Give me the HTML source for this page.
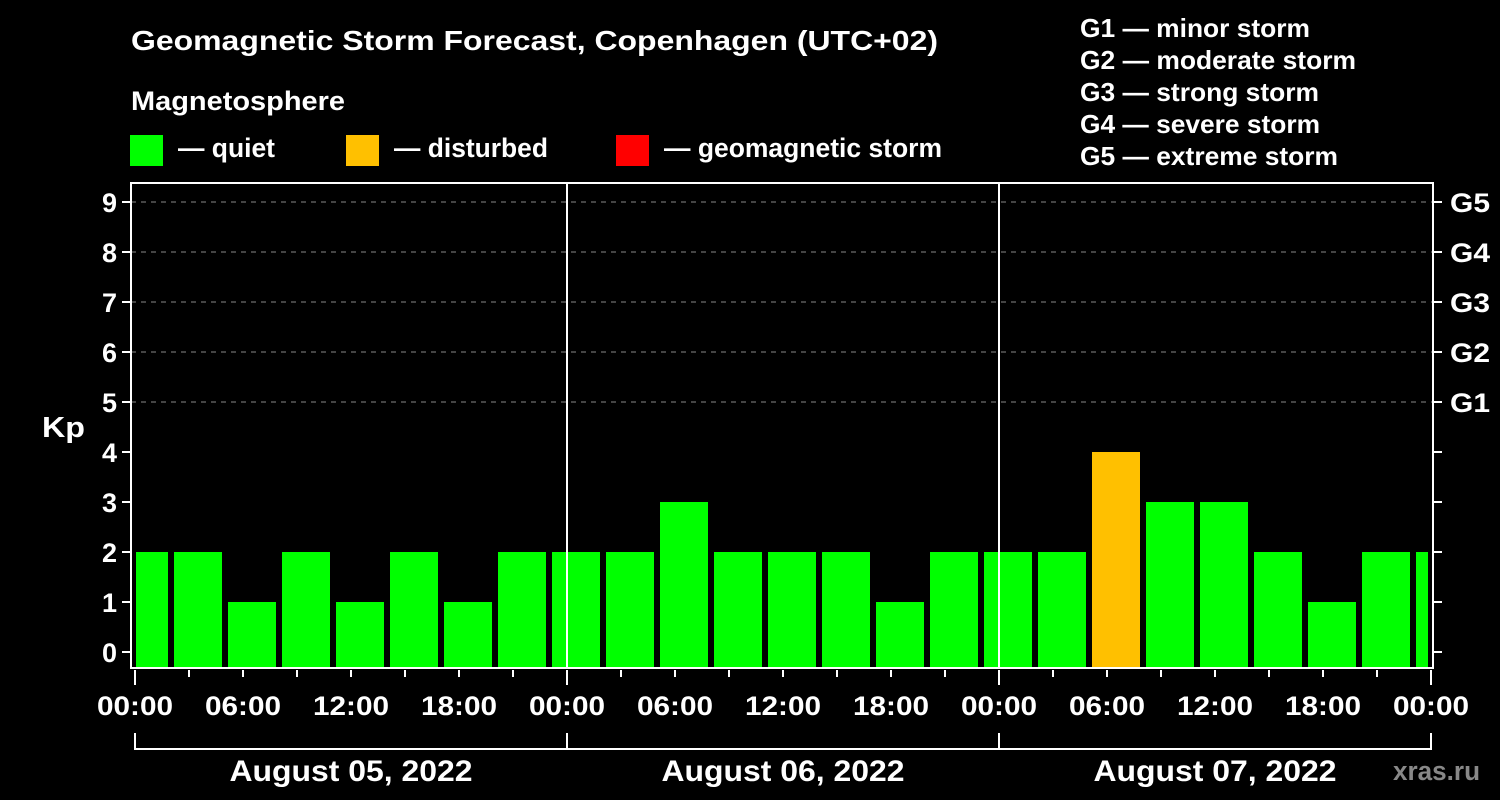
<!DOCTYPE html>
<html><head><meta charset="utf-8"><style>html,body{margin:0;padding:0;background:#000;}svg{display:block}</style></head>
<body>
<svg width="1500" height="800" xmlns="http://www.w3.org/2000/svg" font-family="Liberation Sans, Arial, sans-serif" font-weight="bold" fill="#fff">
<rect width="1500" height="800" fill="#000"/>
<text x="131" y="50" font-size="28" textLength="807" lengthAdjust="spacingAndGlyphs">Geomagnetic Storm Forecast, Copenhagen (UTC+02)</text>
<text x="131" y="110" font-size="27" textLength="214" lengthAdjust="spacingAndGlyphs">Magnetosphere</text>
<rect x="130" y="135" width="33" height="31" fill="#00ff00"/>
<text x="178" y="157" font-size="27" textLength="97" lengthAdjust="spacingAndGlyphs">— quiet</text>
<rect x="346" y="135" width="33" height="31" fill="#ffc000"/>
<text x="394" y="157" font-size="27" textLength="154" lengthAdjust="spacingAndGlyphs">— disturbed</text>
<rect x="616" y="135" width="33" height="31" fill="#ff0000"/>
<text x="664" y="157" font-size="27" textLength="278" lengthAdjust="spacingAndGlyphs">— geomagnetic storm</text>
<g font-size="26" lengthAdjust="spacingAndGlyphs">
<text x="1080" y="37" textLength="230" lengthAdjust="spacingAndGlyphs">G1 — minor storm</text>
<text x="1080" y="69" textLength="276" lengthAdjust="spacingAndGlyphs">G2 — moderate storm</text>
<text x="1080" y="101" textLength="239" lengthAdjust="spacingAndGlyphs">G3 — strong storm</text>
<text x="1080" y="133" textLength="240" lengthAdjust="spacingAndGlyphs">G4 — severe storm</text>
<text x="1080" y="165" textLength="258" lengthAdjust="spacingAndGlyphs">G5 — extreme storm</text>
</g>
<g stroke="#888" stroke-width="1" stroke-dasharray="5,5">
<line x1="131" y1="202" x2="1433" y2="202"/><line x1="131" y1="252" x2="1433" y2="252"/>
<line x1="131" y1="302" x2="1433" y2="302"/><line x1="131" y1="352" x2="1433" y2="352"/>
<line x1="131" y1="402" x2="1433" y2="402"/>
</g>
<g fill="#00ff00">
<rect x="136" y="552" width="32" height="116"/>
<rect x="174" y="552" width="48" height="116"/>
<rect x="228" y="602" width="48" height="66"/>
<rect x="282" y="552" width="48" height="116"/>
<rect x="336" y="602" width="48" height="66"/>
<rect x="390" y="552" width="48" height="116"/>
<rect x="444" y="602" width="48" height="66"/>
<rect x="498" y="552" width="48" height="116"/>
<rect x="552" y="552" width="48" height="116"/>
<rect x="606" y="552" width="48" height="116"/>
<rect x="660" y="502" width="48" height="166"/>
<rect x="714" y="552" width="48" height="116"/>
<rect x="768" y="552" width="48" height="116"/>
<rect x="822" y="552" width="48" height="116"/>
<rect x="876" y="602" width="48" height="66"/>
<rect x="930" y="552" width="48" height="116"/>
<rect x="984" y="552" width="48" height="116"/>
<rect x="1038" y="552" width="48" height="116"/>
<rect x="1146" y="502" width="48" height="166"/>
<rect x="1200" y="502" width="48" height="166"/>
<rect x="1254" y="552" width="48" height="116"/>
<rect x="1308" y="602" width="48" height="66"/>
<rect x="1362" y="552" width="48" height="116"/>
<rect x="1416" y="552" width="12" height="116"/>
</g>
<rect x="1092" y="452" width="48" height="216" fill="#ffc000"/>
<g stroke="#fff" stroke-width="2" fill="none">
<rect x="131" y="183" width="1302" height="485"/>
<line x1="567" y1="183" x2="567" y2="668"/>
<line x1="999" y1="183" x2="999" y2="668"/>
<path d="M135 733V749H1431V733M567 733V749M999 733V749"/>
</g>
<g stroke="#fff" stroke-width="2">
<path d="M122 202H131M122 252H131M122 302H131M122 352H131M122 402H131M122 452H131M122 502H131M122 552H131M122 602H131M122 652H131"/>
<path d="M1433 202H1442M1433 252H1442M1433 302H1442M1433 352H1442M1433 402H1442M1433 452H1442M1433 502H1442M1433 552H1442M1433 602H1442M1433 652H1442"/>
<path d="M135 670V685M567 670V685M999 670V685M1431 670V685"/>
<path d="M189 670V677M243 670V677M297 670V677M351 670V677M405 670V677M459 670V677M513 670V677M621 670V677M675 670V677M729 670V677M783 670V677M837 670V677M891 670V677M945 670V677M1053 670V677M1107 670V677M1161 670V677M1215 670V677M1269 670V677M1323 670V677M1377 670V677"/>
</g>
<g font-size="27" text-anchor="end">
<text x="117" y="212">9</text><text x="117" y="262">8</text><text x="117" y="312">7</text>
<text x="117" y="362">6</text><text x="117" y="412">5</text><text x="117" y="462">4</text>
<text x="117" y="512">3</text><text x="117" y="562">2</text><text x="117" y="612">1</text>
<text x="117" y="662">0</text>
</g>
<text x="42" y="437" font-size="29" textLength="43" lengthAdjust="spacingAndGlyphs">Kp</text>
<g font-size="27">
<text x="1450" y="212" textLength="40" lengthAdjust="spacingAndGlyphs">G5</text><text x="1450" y="262" textLength="40" lengthAdjust="spacingAndGlyphs">G4</text><text x="1450" y="312" textLength="40" lengthAdjust="spacingAndGlyphs">G3</text>
<text x="1450" y="362" textLength="40" lengthAdjust="spacingAndGlyphs">G2</text><text x="1450" y="412" textLength="40" lengthAdjust="spacingAndGlyphs">G1</text>
</g>
<g font-size="27" text-anchor="middle">
<text x="135" y="715" textLength="76" lengthAdjust="spacingAndGlyphs">00:00</text><text x="243" y="715" textLength="76" lengthAdjust="spacingAndGlyphs">06:00</text><text x="351" y="715" textLength="76" lengthAdjust="spacingAndGlyphs">12:00</text><text x="459" y="715" textLength="76" lengthAdjust="spacingAndGlyphs">18:00</text>
<text x="567" y="715" textLength="76" lengthAdjust="spacingAndGlyphs">00:00</text><text x="675" y="715" textLength="76" lengthAdjust="spacingAndGlyphs">06:00</text><text x="783" y="715" textLength="76" lengthAdjust="spacingAndGlyphs">12:00</text><text x="891" y="715" textLength="76" lengthAdjust="spacingAndGlyphs">18:00</text>
<text x="999" y="715" textLength="76" lengthAdjust="spacingAndGlyphs">00:00</text><text x="1107" y="715" textLength="76" lengthAdjust="spacingAndGlyphs">06:00</text><text x="1215" y="715" textLength="76" lengthAdjust="spacingAndGlyphs">12:00</text><text x="1323" y="715" textLength="76" lengthAdjust="spacingAndGlyphs">18:00</text>
<text x="1431" y="715" textLength="76" lengthAdjust="spacingAndGlyphs">00:00</text>
<text x="351" y="781" font-size="30" textLength="243" lengthAdjust="spacingAndGlyphs">August 05, 2022</text>
<text x="783" y="781" font-size="30" textLength="243" lengthAdjust="spacingAndGlyphs">August 06, 2022</text>
<text x="1215" y="781" font-size="30" textLength="243" lengthAdjust="spacingAndGlyphs">August 07, 2022</text>
</g>
<text x="1393" y="780" font-size="27" fill="#888" textLength="87" lengthAdjust="spacingAndGlyphs">xras.ru</text>
</svg>
</body></html>
